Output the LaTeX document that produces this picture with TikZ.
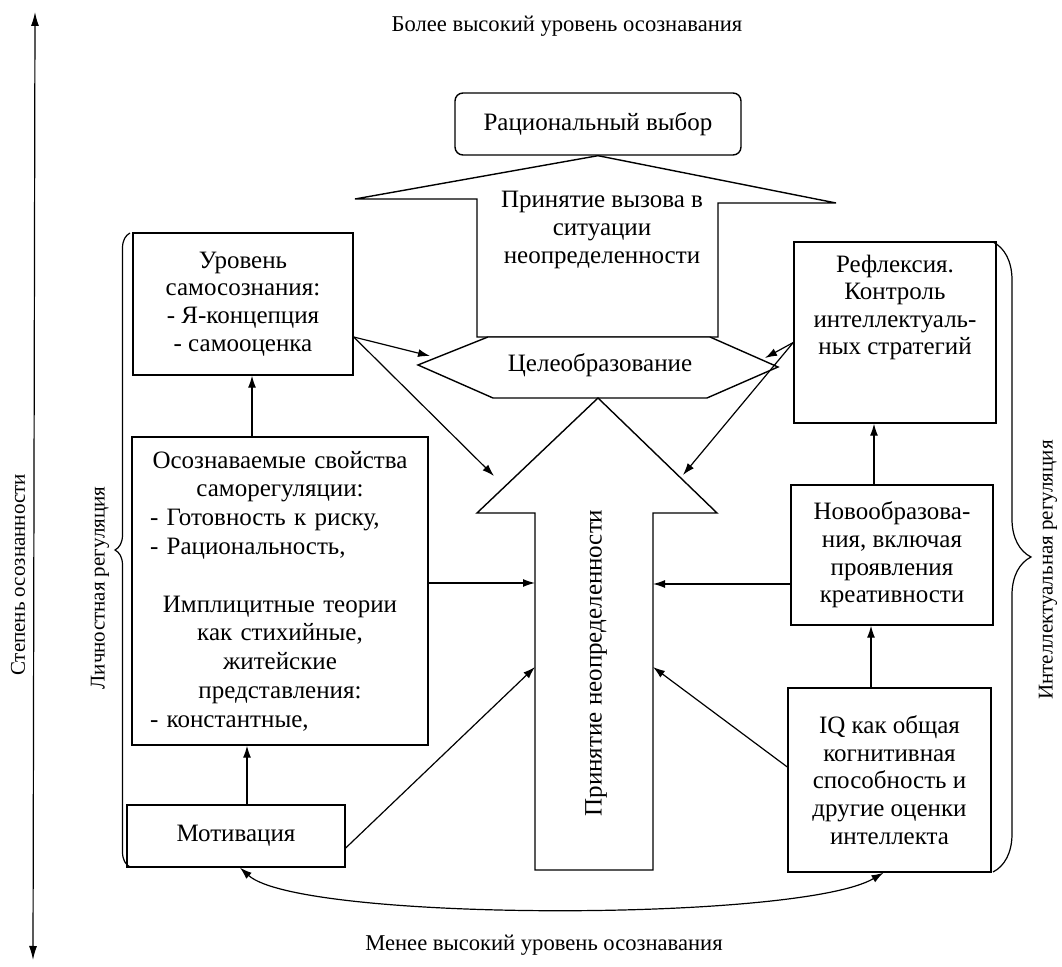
\documentclass[tikz,border=0pt]{standalone}
\usepackage{fontspec}
\setmainfont{Liberation Serif}
\usetikzlibrary{arrows.meta,calc,decorations.pathreplacing}

\tikzset{
  itembox/.style={draw,line width=0.7pt,align=center,inner sep=0pt,
    font=\fontsize{12.5}{13.8}\selectfont},
  plaintext/.style={align=center,inner sep=0pt,font=\fontsize{12.5}{13.8}\selectfont},
  blockarrow/.style={draw,line width=0.7pt,fill=white,line join=miter},
  arr/.style={-{Latex[length=6pt,width=4pt]},line width=0.6pt},
  sidelabel/.style={rotate=90,inner sep=0pt,font=\fontsize{10.5}{12}\selectfont},
  levellabel/.style={inner sep=0pt,font=\fontsize{11.3}{13}\selectfont},
  regbrace/.style={decorate,decoration={brace,amplitude=#1},line width=0.6pt}
}
\newcommand\flushitem[1]{\makebox[130pt][l]{#1}}

\begin{document}
\begin{tikzpicture}[x=0.5pt,y=-0.5pt]
\useasboundingbox (0,0) rectangle (1062,967);

\coordinate (axtop) at (35,12);
\coordinate (axbot) at (33,960);
\draw[{Latex[length=7pt,width=4pt]}-{Latex[length=7pt,width=4pt]},line width=0.6pt] (axbot) -- (axtop);
\node[sidelabel] (axlabel) at (18,575) {Степень осознанности};

\node[levellabel] (high) at (567,26) {Более высокий уровень осознавания};
\node[levellabel] (low) at (544,945) {Менее высокий уровень осознавания};

\node[itembox,rounded corners=4pt,minimum width=143pt,minimum height=31pt] (choice) at (598,124) {Рациональный выбор};

\draw[blockarrow] (choice.south) -- (836,203) -- (718,203) -- (718,337) -- (477,337) -- (477,199) -- (355,199) -- cycle;
\node[plaintext] (challenge) at (602,230) {Принятие вызова в\\ситуации\\неопределенности};

\coordinate (gTL) at (488,337);
\coordinate (gTR) at (710,337);
\coordinate (gR) at (778,367);
\coordinate (gBR) at (707,398);
\coordinate (gBL) at (493,398);
\coordinate (gL) at (418,365);
\draw[blockarrow] (gTL) -- (gTR) -- (gR) -- (gBR) -- (gBL) -- (gL) -- cycle;
\node[plaintext] (goal) at (600,365) {Целеобразование};

\draw[blockarrow] (598,398) -- (717,513) -- (653,513) -- (653,870) -- (535,870) -- (535,513) -- (477,513) -- cycle;
\node[plaintext,rotate=90] (uncert) at (596,663) {Принятие неопределенности};

\node[itembox,minimum width=110pt,minimum height=71pt] (selfaw) at (243,304) {Уровень\\самосознания:\\- Я-концепция\\- самооценка};
\node[itembox,minimum width=148pt,minimum height=154pt,text width=130pt,
  font=\fontsize{12.5}{14.4}\selectfont] (props) at (280,591)
  {Осознаваемые свойства\\саморегуляции:\\\flushitem{- Готовность к риску,}\\\flushitem{- Рациональность,}\\[14.4pt]
   Имплицитные теории\\как стихийные,\\житейские\\представления:\\\flushitem{- константные,}};
\node[itembox,minimum width=109pt,minimum height=31pt] (motiv) at (236,836) {Мотивация};

\node[itembox,minimum width=101pt,minimum height=90.5pt] (refl) at (895,332.5) {Рефлексия.\\Контроль\\интеллектуаль-\\ных стратегий\\ \mbox{}\\ \mbox{}};
\node[itembox,minimum width=101pt,minimum height=70pt] (novo) at (892,555) {Новообразова-\\ния, включая\\проявления\\креативности};
\node[itembox,minimum width=101.5pt,minimum height=92pt] (iq) at (889.5,780) {IQ как общая\\когнитивная\\способность и\\другие оценки\\интеллекта};

\coordinate (gin1) at (430,356);
\coordinate (uin1) at (494,476);
\coordinate (gin2) at (765,358);
\coordinate (uin2) at (683,475);
\coordinate (uin3) at (535,583);
\coordinate (uin4) at (535,667);
\coordinate (uin5) at (653,584);
\coordinate (uin6) at (653,667);

\draw[arr] (selfaw.east |- gTL) -- (gin1);
\draw[arr] (selfaw.east |- gTL) -- (uin1);
\draw[arr] ([yshift=-5pt]refl.west) -- (gin2);
\draw[arr] ([yshift=-5pt]refl.west) -- (uin2);
\draw[arr] (props.east |- uin3) -- (uin3);
\draw[arr] ([yshift=-6pt]motiv.east) -- (uin4);
\draw[arr] (novo.west |- uin5) -- (uin5);
\draw[arr] ([yshift=6.5pt]iq.west) -- (uin6);

\coordinate (v1) at ($(selfaw.south)+(9,0)$);
\coordinate (v2) at ($(motiv.north)+(11,0)$);
\coordinate (v3) at ($(iq.north)+(-18.5,0)$);
\coordinate (v4) at ($(novo.north)+(-18,0)$);
\draw[arr] (v1 |- props.north) -- (v1);
\draw[arr] (v2) -- (v2 |- props.south);
\draw[arr] (v3) -- (v3 |- novo.south);
\draw[arr] (v4) -- (v4 |- refl.south);

\draw[{Latex[length=6pt,width=4pt]}-{Latex[length=6pt,width=4pt]},line width=0.6pt]
  ($(motiv.south)+(4,0)$) .. controls (300,922) and (800,922) .. ($(iq.south)+(-6,0)$);

\draw[regbrace=7.5pt] (130,867) -- (130,233);
\node[sidelabel] (perslabel) at (100,588) {Личностная регуляция};
\draw[regbrace=19pt] (993,242) -- (993,872);
\node[sidelabel] (intlabel) at (1048,570) {Интеллектуальная регуляция};

\end{tikzpicture}
\end{document}
